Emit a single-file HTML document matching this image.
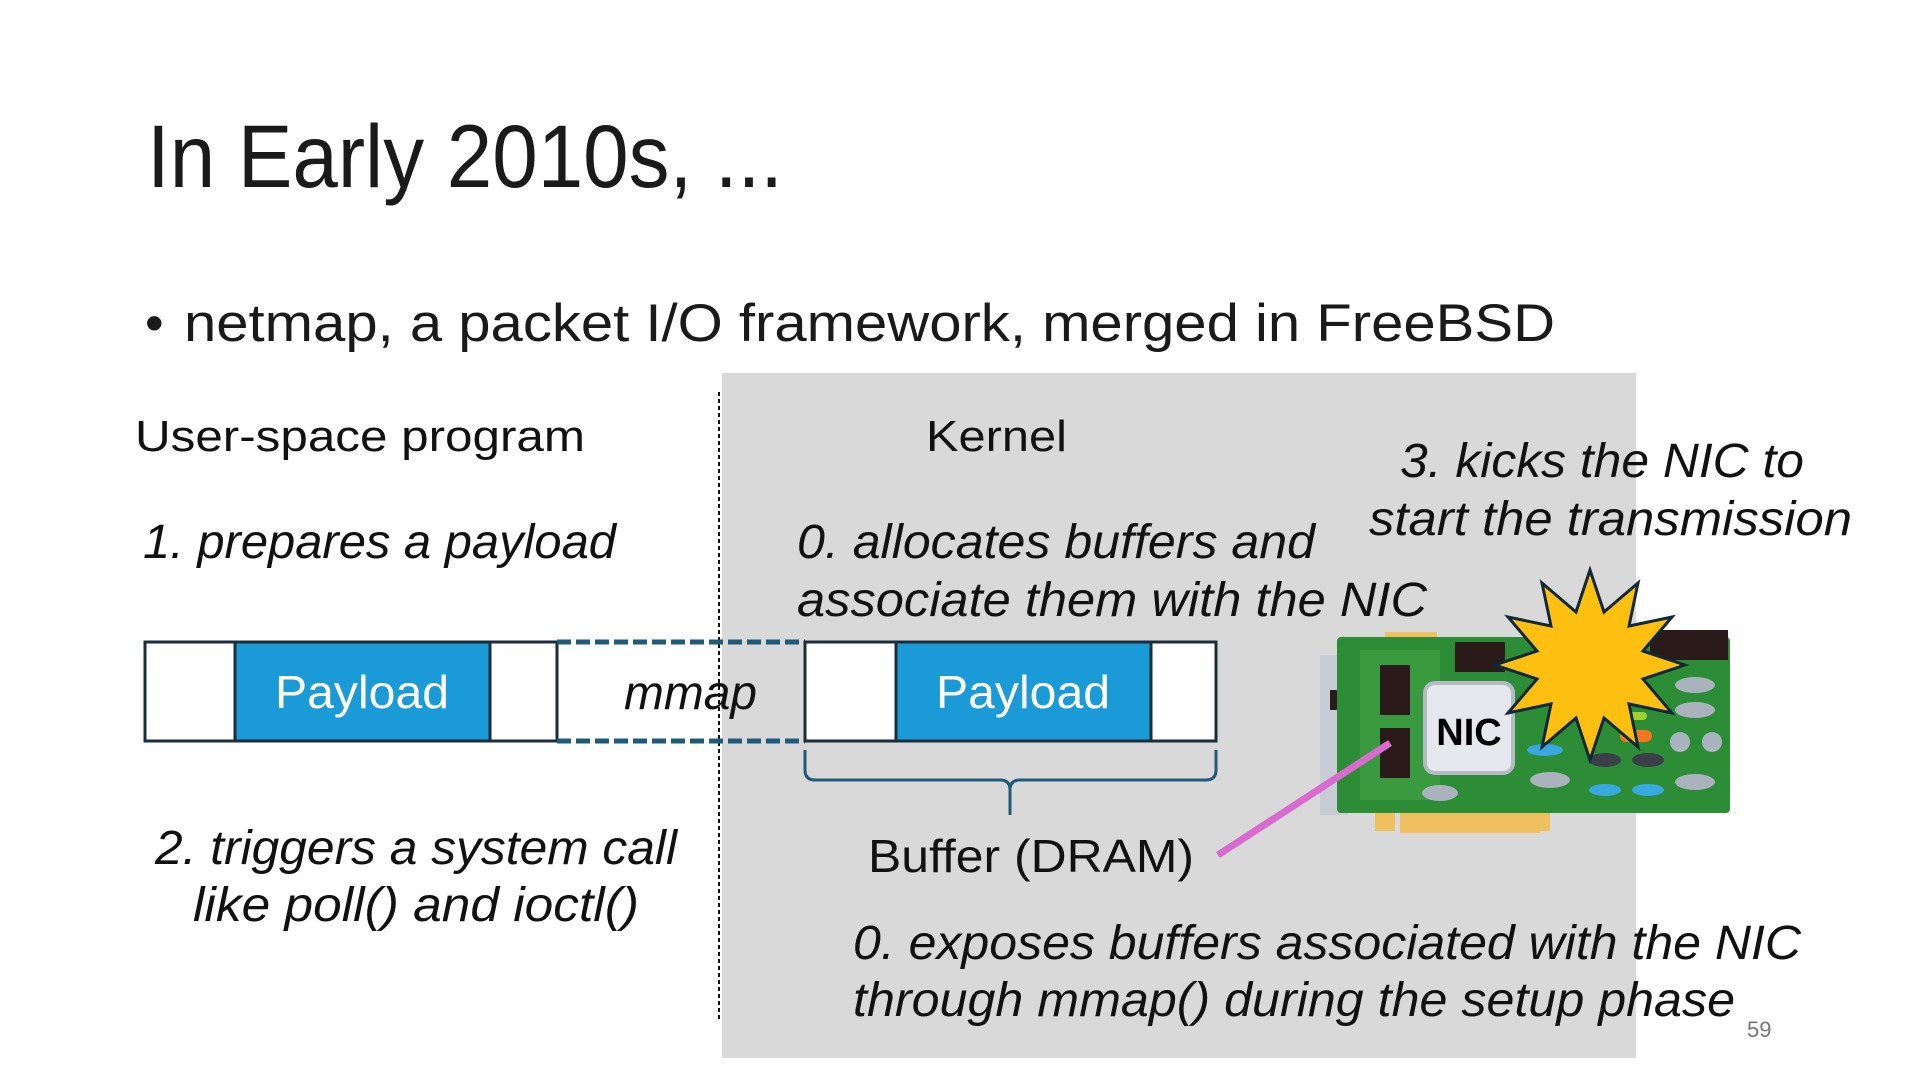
<!DOCTYPE html>
<html><head><meta charset="utf-8"><style>
html,body{margin:0;padding:0;background:#fff;}
svg{display:block;}
text{font-family:"Liberation Sans","Noto Sans CJK JP",sans-serif;}
</style></head><body>
<svg width="1920" height="1080" viewBox="0 0 1920 1080" xmlns="http://www.w3.org/2000/svg">
<rect x="722" y="373" width="914" height="685" fill="#d9d9d9"/>
<line x1="719" y1="392" x2="719" y2="1019" stroke="#111" stroke-width="2" stroke-dasharray="4,3"/>

<g transform="translate(0,3)">
<text x="147" y="184" font-size="89" fill="#1a1a1a" textLength="636" lengthAdjust="spacingAndGlyphs">In Early 2010s, ...</text>
<text x="145" y="338" font-size="53" fill="#1a1a1a">•</text>
<text x="184" y="338" font-size="53" fill="#1a1a1a" textLength="1371" lengthAdjust="spacingAndGlyphs">netmap, a packet I/O framework, merged in FreeBSD</text>

<text x="135" y="448" font-size="44" fill="#111" textLength="450" lengthAdjust="spacingAndGlyphs">User-space program</text>
<text x="926" y="448" font-size="44" fill="#111" textLength="141" lengthAdjust="spacingAndGlyphs">Kernel</text>

<g font-style="italic" font-size="48" fill="#111">
<text x="143" y="555" textLength="473" lengthAdjust="spacingAndGlyphs">1. prepares a payload</text>
<text x="797" y="555" textLength="518" lengthAdjust="spacingAndGlyphs">0. allocates buffers and</text>
<text x="797" y="613" textLength="630" lengthAdjust="spacingAndGlyphs">associate them with the NIC</text>
<text x="1400" y="474" textLength="404" lengthAdjust="spacingAndGlyphs">3. kicks the NIC to</text>
<text x="1369" y="532" textLength="483" lengthAdjust="spacingAndGlyphs">start the transmission</text>
<text x="155" y="861" textLength="522" lengthAdjust="spacingAndGlyphs">2. triggers a system call</text>
<text x="193" y="918" textLength="446" lengthAdjust="spacingAndGlyphs">like poll() and ioctl()</text>
<text x="853" y="956" textLength="948" lengthAdjust="spacingAndGlyphs">0. exposes buffers associated with the NIC</text>
<text x="853" y="1013" textLength="882" lengthAdjust="spacingAndGlyphs">through mmap() during the setup phase</text>
<text x="624" y="706" textLength="133" lengthAdjust="spacingAndGlyphs">mmap</text>
</g>
</g>

<!-- left buffer -->
<rect x="145" y="642" width="412" height="99" fill="#fff" stroke="#1a2e3a" stroke-width="3"/>
<rect x="235" y="642" width="255" height="99" fill="#1a9ad6" stroke="#1a2e3a" stroke-width="3"/>
<text x="362" y="708" font-size="46" fill="#fff" text-anchor="middle" textLength="174" lengthAdjust="spacingAndGlyphs">Payload</text>

<!-- dashed -->
<line x1="557" y1="642" x2="805" y2="642" stroke="#1f5a7a" stroke-width="5" stroke-dasharray="14,5"/>
<line x1="557" y1="741" x2="805" y2="741" stroke="#1f5a7a" stroke-width="5" stroke-dasharray="14,5"/>

<!-- right buffer -->
<rect x="805" y="642" width="411" height="99" fill="#fff" stroke="#1a2e3a" stroke-width="3"/>
<rect x="896" y="642" width="255" height="99" fill="#1a9ad6" stroke="#1a2e3a" stroke-width="3"/>
<text x="1023" y="708" font-size="46" fill="#fff" text-anchor="middle" textLength="174" lengthAdjust="spacingAndGlyphs">Payload</text>

<!-- brace -->
<path d="M805 750 V770 Q805 780 815 780 H1000 Q1010 780 1010 790 V815 M1010 790 Q1010 780 1020 780 H1206 Q1216 780 1216 770 V750" fill="none" stroke="#1f5a7a" stroke-width="3"/>
<text x="868" y="872" font-size="46" fill="#111" textLength="326" lengthAdjust="spacingAndGlyphs">Buffer (DRAM)</text>

<!-- NIC card -->
<rect x="1400" y="813" width="140" height="20" fill="#f0c060"/>
<rect x="1375" y="813" width="20" height="18" fill="#f0c060"/>
<rect x="1525" y="813" width="25" height="18" fill="#f0c060"/>
<rect x="1385" y="632" width="52" height="10" fill="#f0c060"/>
<rect x="1320" y="655" width="28" height="160" fill="#c8ccd4"/>
<rect x="1330" y="690" width="20" height="20" fill="#2a1a1a"/>
<rect x="1337" y="637" width="393" height="176" fill="#2d8d36" rx="4"/>
<rect x="1360" y="650" width="80" height="150" fill="#3a9a3f"/>
<rect x="1380" y="665" width="30" height="50" fill="#2a1a1a"/>
<rect x="1380" y="728" width="30" height="50" fill="#2a1a1a"/>
<rect x="1455" y="642" width="50" height="30" fill="#2a1a1a"/>
<rect x="1650" y="630" width="40" height="30" fill="#2a1a1a"/>
<rect x="1690" y="630" width="38" height="30" fill="#2a1a1a"/>
<rect x="1425" y="683" width="88" height="90" rx="10" fill="#e6e8ee" stroke="#b5bac4" stroke-width="4"/>
<text x="1469" y="745" font-size="38" font-weight="bold" fill="#000" text-anchor="middle">NIC</text>
<g fill="#aab2be">
<ellipse cx="1695" cy="685" rx="20" ry="8"/><ellipse cx="1695" cy="710" rx="20" ry="8"/>
<ellipse cx="1695" cy="782" rx="20" ry="8"/><ellipse cx="1550" cy="780" rx="20" ry="8"/>
<ellipse cx="1440" cy="793" rx="18" ry="8"/>
<circle cx="1680" cy="742" r="10"/><circle cx="1712" cy="742" r="10"/>
</g>
<g fill="#3aa8e0"><ellipse cx="1545" cy="750" rx="18" ry="6"/><ellipse cx="1605" cy="790" rx="16" ry="6"/><ellipse cx="1648" cy="790" rx="16" ry="6"/></g>
<g fill="#3a3f4a"><ellipse cx="1605" cy="760" rx="16" ry="7"/><ellipse cx="1648" cy="760" rx="16" ry="7"/></g>
<rect x="1620" y="730" width="32" height="12" rx="6" fill="#f07820"/>
<rect x="1625" y="712" width="22" height="8" rx="4" fill="#a0d030"/>

<!-- starburst -->
<polygon points="1685,665 1643,679 1672,713 1629,704 1638,747 1604,718 1590,760 1576,718 1542,747 1551,704 1508,713 1537,679 1495,665 1537,651 1508,617 1551,626 1542,583 1576,612 1590,570 1604,612 1638,583 1629,626 1672,617 1643,651" fill="#fdc010" stroke="#10283a" stroke-width="3"/>

<!-- pink line -->
<line x1="1218" y1="855" x2="1390" y2="743" stroke="#d86ad0" stroke-width="7"/>

<text x="1747" y="1037" font-size="22" fill="#777">59</text>
</svg>
</body></html>
